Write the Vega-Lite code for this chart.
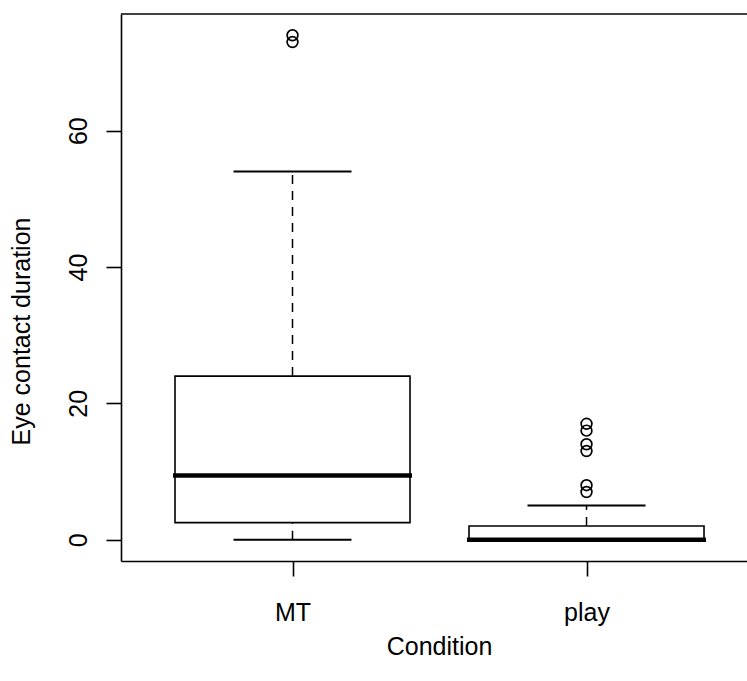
{
  "$schema": "https://vega.github.io/schema/vega-lite/v6.json",
  "width": 626,
  "height": 547,
  "autosize": {"type": "none"},
  "padding": {"left": 121, "top": 14, "right": 0, "bottom": 120},
  "background": "white",
  "config": {
    "view": {"stroke": null},
    "font": "Liberation Sans",
    "axis": {"labelFont": "Liberation Sans", "titleFont": "Liberation Sans", "labelColor": "black", "titleColor": "black", "domainColor": "black", "tickColor": "black", "domainWidth": 1.6, "tickWidth": 1.6, "grid": false, "labelFontSize": 25, "titleFontSize": 25, "titleFontWeight": "normal"}
  },
  "datasets": {
    "stats": [
      {"Condition": "MT", "lo": 0, "q1": 2.5, "median": 9.4, "q3": 24, "hi": 54},
      {"Condition": "play", "lo": 0, "q1": 0, "median": 0, "q3": 2, "hi": 5}
    ],
    "outliers": [
      {"Condition": "MT", "value": 74},
      {"Condition": "MT", "value": 73},
      {"Condition": "play", "value": 17},
      {"Condition": "play", "value": 16},
      {"Condition": "play", "value": 14},
      {"Condition": "play", "value": 13},
      {"Condition": "play", "value": 8},
      {"Condition": "play", "value": 7}
    ]
  },
  "layer": [
    {
      "data": {"name": "stats"},
      "mark": {"type": "rule", "strokeDash": [9, 7], "strokeWidth": 1.5, "color": "black"},
      "encoding": {
        "x": {"field": "Condition", "type": "nominal", "scale": {"type": "point", "padding": 0.5646, "align": 0.5166},
          "axis": {"orient": "bottom", "labelAngle": 0, "tickSize": 15, "labelPadding": 24, "labelBaseline": "top", "title": "Condition", "titleX": 318, "titleY": 93, "titleBaseline": "alphabetic", "titleAlign": "center", "titleAnchor": null}},
        "y": {"field": "q3", "type": "quantitative", "scale": {"domain": [-3.125, 77.12], "nice": false, "zero": false},
          "axis": {"values": [0, 20, 40, 60], "tickSize": 15, "labelAngle": -90, "labelAlign": "center", "labelBaseline": "alphabetic", "labelPadding": 20, "title": "Eye contact duration", "titleX": -92, "titleY": 317, "titleAngle": -90, "titleBaseline": "alphabetic", "titleAlign": "center", "titleAnchor": null}},
        "y2": {"field": "hi"}
      }
    },
    {
      "data": {"name": "stats"},
      "mark": {"type": "rule", "strokeDash": [9, 7], "strokeWidth": 1.5, "color": "black"},
      "encoding": {
        "x": {"field": "Condition", "type": "nominal"},
        "y": {"field": "lo", "type": "quantitative"},
        "y2": {"field": "q1"}
      }
    },
    {
      "data": {"name": "stats"},
      "mark": {"type": "bar", "size": 235, "fill": "white", "stroke": "black", "strokeWidth": 1.6},
      "encoding": {
        "x": {"field": "Condition", "type": "nominal"},
        "y": {"field": "q1", "type": "quantitative"},
        "y2": {"field": "q3"}
      }
    },
    {
      "data": {"name": "stats"},
      "mark": {"type": "tick", "size": 239, "thickness": 4.5, "color": "black", "opacity": 1},
      "encoding": {
        "x": {"field": "Condition", "type": "nominal"},
        "y": {"field": "median", "type": "quantitative"}
      }
    },
    {
      "data": {"name": "stats"},
      "mark": {"type": "tick", "size": 118, "thickness": 2, "color": "black", "opacity": 1},
      "encoding": {
        "x": {"field": "Condition", "type": "nominal"},
        "y": {"field": "hi", "type": "quantitative"}
      }
    },
    {
      "data": {"name": "stats"},
      "mark": {"type": "tick", "size": 118, "thickness": 2, "color": "black", "opacity": 1},
      "encoding": {
        "x": {"field": "Condition", "type": "nominal"},
        "y": {"field": "lo", "type": "quantitative"}
      }
    },
    {
      "data": {"name": "outliers"},
      "mark": {"type": "point", "shape": "circle", "filled": false, "size": 115, "stroke": "black", "strokeWidth": 1.7, "opacity": 1},
      "encoding": {
        "x": {"field": "Condition", "type": "nominal"},
        "y": {"field": "value", "type": "quantitative"}
      }
    },
    {
      "data": {"values": [{}]},
      "mark": {"type": "rule", "strokeWidth": 1.6, "color": "black"},
      "encoding": {"y": {"datum": 77.12}}
    }
  ]
}
